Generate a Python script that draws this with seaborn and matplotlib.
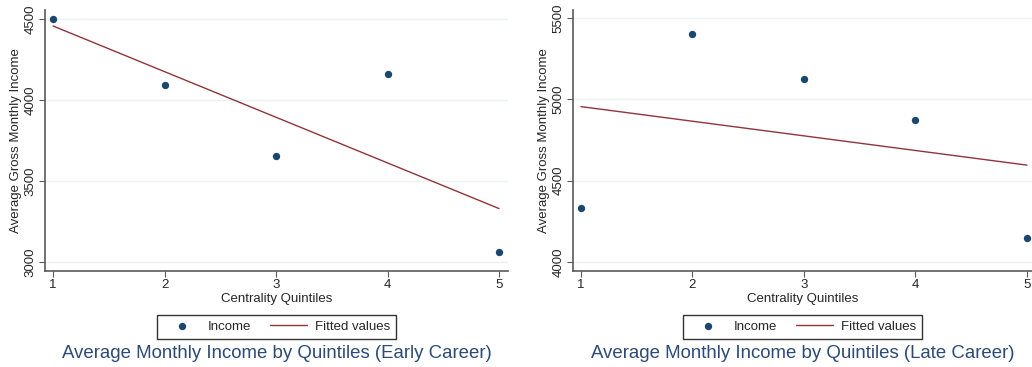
import seaborn as sns
import matplotlib.pyplot as plt
import pandas as pd

# data
quintiles = [1, 2, 3, 4, 5]
income_early = [4503, 4090, 3656, 4159, 3059]
income_late = [4334, 5400, 5123, 4871, 4149]

titles = ["Average Monthly Income by Quintiles (Early Career)",
          "Average Monthly Income by Quintiles (Late Career)"]
yticks_early = [3000, 3500, 4000, 4500]
yticks_late = [4000, 4500, 5000, 5500]

NAVY = "#1a476f"
MAROON = "#90353b"
GRID = "#eaf2f3"
SPINE = "#5a5a5a"

sns.set_style("white")
plt.rcParams['font.family'] = ['Liberation Sans', 'DejaVu Sans']

fig = plt.figure(figsize=(10.32, 3.67), dpi=100)
ax1 = fig.add_axes([0.0436, 0.2616, 0.4486, 0.7112])
ax2 = fig.add_axes([0.5552, 0.2616, 0.4448, 0.7112])


def panel(ax, y, yticks, ylim, xlim, title):
    df = pd.DataFrame({"q": quintiles, "inc": y})
    sns.regplot(data=df, x="q", y="inc", ax=ax, ci=None, label="Income",
                scatter_kws={"color": NAVY, "s": 28, "alpha": 1,
                             "linewidths": 0},
                line_kws={"color": MAROON, "lw": 1.0, "label": "Fitted values"})
    ax.set_xlim(*xlim)
    ax.set_ylim(*ylim)
    ax.set_xticks(quintiles)
    ax.set_yticks(yticks)
    ax.set_yticklabels([str(t) for t in yticks], rotation=90, va="center")
    for t in yticks:
        ax.axhline(t, color=GRID, lw=1.0, zorder=0)
    ax.tick_params(axis="both", direction="out", length=4, width=0.8,
                   color=SPINE, labelsize=9.5, pad=2, left=True, bottom=True)
    for s in ["top", "right"]:
        ax.spines[s].set_visible(False)
    for s in ["left", "bottom"]:
        ax.spines[s].set_color(SPINE)
        ax.spines[s].set_linewidth(1.2)
    ax.set_xlabel("Centrality Quintiles", fontsize=9.5, labelpad=1)
    ax.set_ylabel("Average Gross Monthly Income", fontsize=9.5, labelpad=2)
    handles = [ax.collections[0], ax.lines[0]]
    leg = ax.legend(handles, ["Income", "Fitted values"], loc="center",
                    bbox_to_anchor=(0.5, -0.213), ncol=2,
                    fontsize=9.5, frameon=True, fancybox=False,
                    edgecolor="black", handlelength=2.8, columnspacing=1.4,
                    handletextpad=0.6, borderpad=0.45, scatterpoints=1)
    leg.get_frame().set_linewidth(1.0)
    ax.text(0.5, -0.318, title, transform=ax.transAxes, ha="center",
            va="center", fontsize=13.4, color="#2c4a78")


panel(ax1, income_early, yticks_early, (2944, 4556), (0.928, 5.08), titles[0])
panel(ax2, income_late, yticks_late, (3945, 5549), (0.928, 5.045), titles[1])

fig.savefig("out.png", dpi=100)
